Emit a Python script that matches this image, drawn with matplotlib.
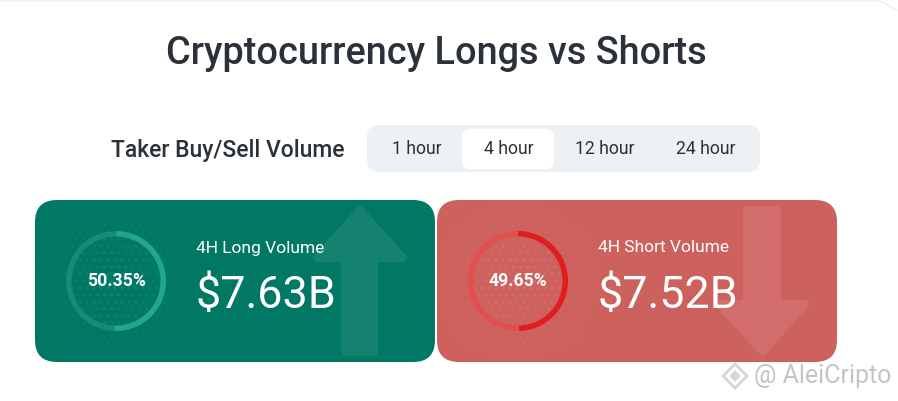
import numpy as np
import matplotlib
matplotlib.use("Agg")
import matplotlib.pyplot as plt
from matplotlib.patches import FancyBboxPatch, Polygon, Wedge, Circle

title = "Cryptocurrency Longs vs Shorts"
section = "Taker Buy/Sell Volume"
periods = ["1 hour", "4 hour", "12 hour", "24 hour"]
active_period = "4 hour"
card_labels = ["4H Long Volume", "4H Short Volume"]
card_values = ["$7.63B", "$7.52B"]
shares = [50.35, 49.65]
watermark = "@ AleiCripto"

plt.rcParams['font.family'] = ['Roboto', 'DejaVu Sans']
fig = plt.figure(figsize=(8.98, 4.01), dpi=100)
ax = fig.add_axes([0, 0, 1, 1])
ax.set_xlim(0, 898)
ax.set_ylim(401, 0)
ax.axis('off')
PT = 0.72

def rbox(x0, y0, x1, y1, r, **kw):
    p = FancyBboxPatch((x0 + r, y0 + r), x1 - x0 - 2 * r, y1 - y0 - 2 * r,
                       boxstyle=f"round,pad={r},rounding_size={r}", lw=0, **kw)
    ax.add_patch(p)
    return p

# page edge
ax.plot([0, 880, 897], [1, 1, 10], color='#eceef0', lw=1)

ax.text(436, 53, title, ha='center', va='center', fontsize=27.3, color='#2b3139', fontweight='medium')
ax.text(228, 151, section, ha='center', va='center', fontsize=16.5, color='#2b3139', fontweight='medium')

# period selector
rbox(367, 125, 760, 172, 12, color='#eef1f4')
rbox(462, 129, 554, 169, 8, color='white')
for name, cx in zip(periods, [417, 508.5, 605, 706]):
    ax.text(cx, 149.5, name, ha='center', va='center', fontsize=12.7, color='#2b3139')

# cards
cards = [
    dict(x=35, bg='#007864', dot='#1a8a75', hi='#22a68f', lo='#178b77', arrow='#15826f', up=True),
    dict(x=437, bg='#cd615e', dot='#d87572', hi='#e11d1d', lo='#e34f4f', arrow='#d26d6c', up=False),
]
for card, lab, val, share in zip(cards, card_labels, card_values, shares):
    x = card['x']
    rbox(x, 200, x + 400, 362, 22, color=card['bg'], zorder=1)

    # halftone dots fading away from the ring
    cx, cy = x + 81, 281
    gx, gy = np.meshgrid(np.arange(x + 3, x + 175, 7.0), np.arange(204, 360, 7.0))
    gx[1::2] += 3.5
    d = np.hypot(gx - cx, gy - cy)
    a = np.clip(1 - d / 95, 0, 1) * 0.75
    col = np.tile(matplotlib.colors.to_rgba(card['dot']), (gx.size, 1))
    col[:, 3] = a.ravel()
    ax.scatter(gx.ravel(), gy.ravel(), s=(2.2 * PT * 2) ** 2 / 2, c=col, lw=0, zorder=2)

    # arrow
    if card['up']:
        pts = [(x + 325, 210), (x + 368, 258), (x + 339, 258), (x + 339, 352), (x + 310, 352),
               (x + 310, 258), (x + 282, 258)]
    else:
        pts = [(x + 326, 352), (x + 368, 304), (x + 340, 304), (x + 340, 210), (x + 310, 210),
               (x + 310, 304), (x + 282, 304)]
    ax.add_patch(Polygon(pts, closed=True, fc=card['arrow'], ec=card['arrow'],
                         lw=8 * PT, joinstyle='round', zorder=2))

    # ring: the bright arc runs clockwise from the top, its length taken from the share
    R, W = 50, 5.5
    sweep = 3.6 * share
    # y axis is inverted, so angles increase clockwise on screen
    ax.add_patch(Wedge((cx, cy), R, -90 + sweep, 270, width=W, fc=card['lo'], lw=0, zorder=3))
    ax.add_patch(Wedge((cx, cy), R, -90, -90 + sweep, width=W, fc=card['hi'], lw=0, zorder=3))

    ax.text(cx, cy, f"{share:.2f}%", ha='center', va='center', fontsize=12.7,
            color='white', fontweight='bold', zorder=5)
    ax.text(x + 161, 248, lab, ha='left', va='center', fontsize=12.5, color='white', zorder=5)
    ax.text(x + 161, 296.5, val, ha='left', va='center', fontsize=32.3, color='white', zorder=5)

# watermark
wx, wy = 735, 376
ax.add_patch(Polygon([(wx, wy - 12), (wx + 12, wy), (wx, wy + 12), (wx - 12, wy)], closed=True,
                     fc='none', ec='#d6d6d6', lw=2, zorder=6))
ax.add_patch(Polygon([(wx, wy - 5), (wx + 5, wy), (wx, wy + 5), (wx - 5, wy)], closed=True,
                     fc='#d6d6d6', ec='#d6d6d6', lw=1, zorder=6))
ax.text(754, 376, watermark, ha='left', va='center', fontsize=18, color='#c4c4c4', zorder=6)

fig.savefig('out.png', dpi=100, facecolor='white')
